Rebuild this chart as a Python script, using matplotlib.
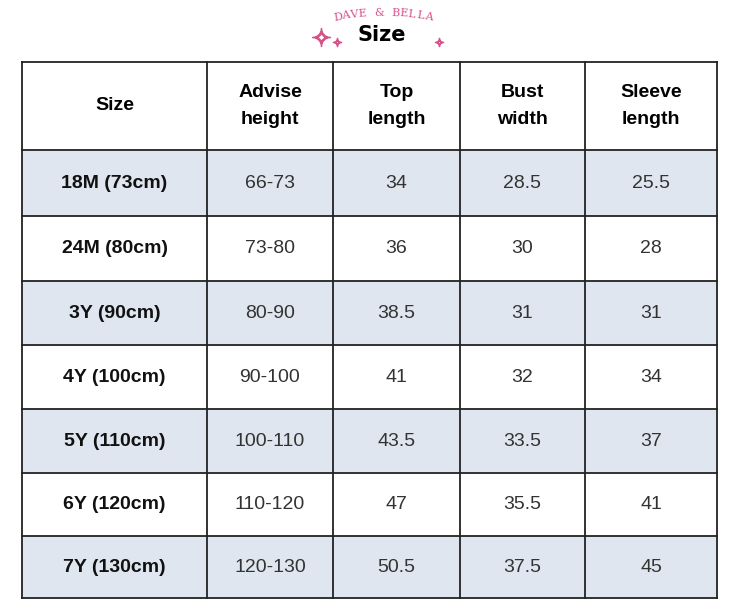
import numpy as np
import matplotlib
matplotlib.use('Agg')
import matplotlib.pyplot as plt
from matplotlib.patches import Rectangle
plt.rcParams['font.family'] = ['Liberation Sans', 'DejaVu Sans']

headers = ['Size', 'Advise\nheight', 'Top\nlength', 'Bust\nwidth', 'Sleeve\nlength']
sizes = ['18M (73cm)', '24M (80cm)', '3Y (90cm)', '4Y (100cm)', '5Y (110cm)', '6Y (120cm)', '7Y (130cm)']
heights = ['66-73', '73-80', '80-90', '90-100', '100-110', '110-120', '120-130']
top_len = ['34', '36', '38.5', '41', '43.5', '47', '50.5']
bust = ['28.5', '30', '31', '32', '33.5', '35.5', '37.5']
sleeve = ['25.5', '28', '31', '34', '37', '41', '45']
brand = 'DAVE & BELLA'

W, H = 750, 612
fig = plt.figure(figsize=(7.5, 6.12), dpi=100)
ax = fig.add_axes([0, 0, 1, 1])
ax.set_xlim(0, W); ax.set_ylim(H, 0); ax.axis('off')

xs = [22, 207, 333, 460, 585, 717]
ys = [62, 150, 216, 281, 345, 409, 473, 536, 598]
shade = '#dfe6f0'
rows = list(zip(sizes, heights, top_len, bust, sleeve))
for i in range(len(rows)):
    if i % 2 == 0:
        ax.add_patch(Rectangle((xs[0], ys[i + 1]), xs[-1] - xs[0], ys[i + 2] - ys[i + 1],
                               color=shade, lw=0))
for x in xs:
    ax.plot([x, x], [ys[0], ys[-1]], color='#222222', lw=1.3)
for y in ys:
    ax.plot([xs[0], xs[-1]], [y, y], color='#222222', lw=1.3)

for j, h in enumerate(headers):
    ax.text((xs[j] + xs[j + 1]) / 2, (ys[0] + ys[1]) / 2, h, ha='center', va='center',
            fontsize=14, fontweight='bold', linespacing=1.75)
for i, r in enumerate(rows):
    yc = (ys[i + 1] + ys[i + 2]) / 2
    for j, v in enumerate(r):
        ax.text((xs[j] + xs[j + 1]) / 2, yc, v, ha='center', va='center',
                fontsize=14, fontweight='bold' if j == 0 else 'normal',
                color='#111111' if j == 0 else '#333333')

ax.text(382, 35, 'Size', ha='center', va='center', fontsize=15, fontweight='bold',
        family='DejaVu Sans')

# brand text along a gentle arc
R, cx, cy = 260, 383, 13 + 260
angs = np.linspace(-10, 10, len(brand))
for ch, a in zip(brand, angs):
    t = np.radians(a)
    ax.text(cx + R * np.sin(t), cy - R * np.cos(t), ch, ha='center', va='center',
            fontsize=8, family='DejaVu Serif', color='#d6528a', rotation=-a)

ax.plot([321], [37], marker='$\u2727$', ms=13, color='#d6528a')
ax.plot([337], [42], marker='$\u2727$', ms=6, color='#d6528a')
ax.plot([439], [42], marker='$\u2727$', ms=6, color='#d6528a')

fig.savefig('out.png', dpi=100)
